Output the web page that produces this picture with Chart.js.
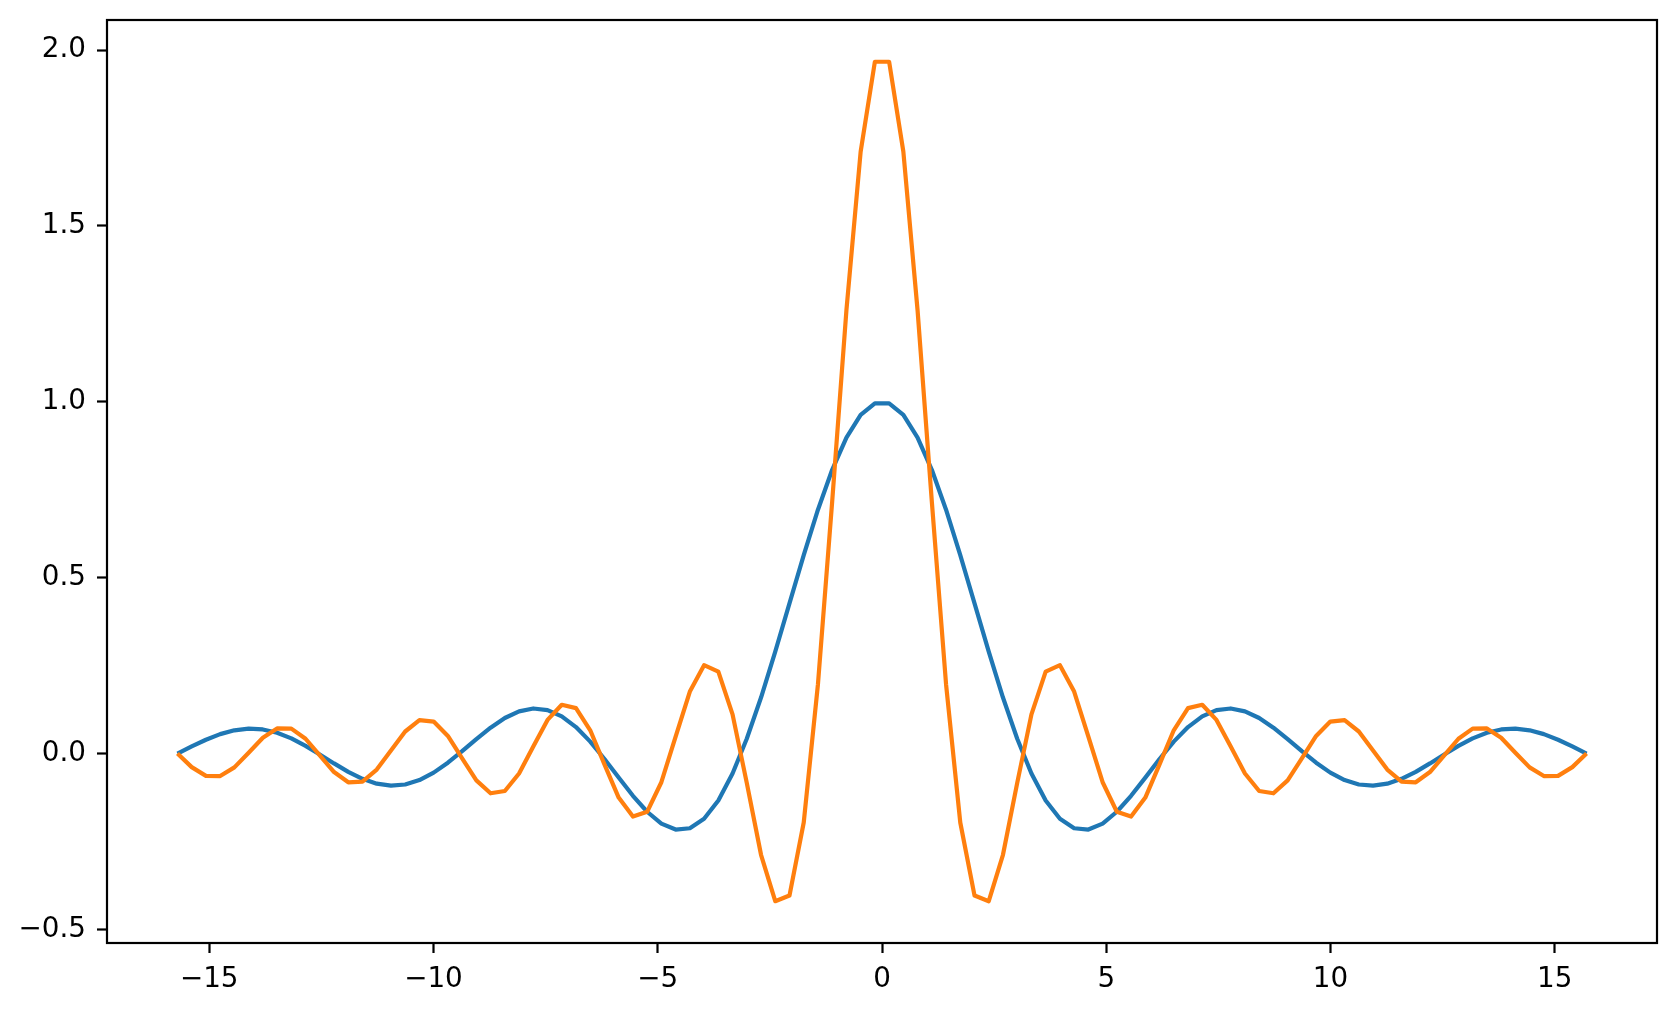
<!DOCTYPE html>
<html>
<head>
<meta charset="utf-8">
<script src="https://cdn.jsdelivr.net/npm/chart.js@4"></script>
<style>
html, body { margin: 0; padding: 0; background: #fff; }
#wrap { width: 1676px; height: 1011px; }
</style>
</head>
<body>
<div id="wrap"><canvas id="c" width="1676" height="1011"></canvas></div>
<script>
const xValues = [
-15.708, -15.391, -15.073, -14.756, -14.439, -14.121, -13.804, -13.487, -13.169, -12.852,
-12.535, -12.217, -11.900, -11.583, -11.265, -10.948, -10.631, -10.313, -9.996, -9.679,
-9.361, -9.044, -8.727, -8.409, -8.092, -7.775, -7.457, -7.140, -6.823, -6.505,
-6.188, -5.871, -5.553, -5.236, -4.919, -4.601, -4.284, -3.967, -3.649, -3.332,
-3.015, -2.697, -2.380, -2.063, -1.745, -1.428, -1.111, -0.793, -0.476, -0.159,
0.159, 0.476, 0.793, 1.111, 1.428, 1.745, 2.063, 2.380, 2.697, 3.015,
3.332, 3.649, 3.967, 4.284, 4.601, 4.919, 5.236, 5.553, 5.871, 6.188,
6.505, 6.823, 7.140, 7.457, 7.775, 8.092, 8.409, 8.727, 9.044, 9.361,
9.679, 9.996, 10.313, 10.631, 10.948, 11.265, 11.583, 11.900, 12.217, 12.535,
12.852, 13.169, 13.487, 13.804, 14.121, 14.439, 14.756, 15.073, 15.391, 15.708
];
const blueValues = [
0.0000, 0.0203, 0.0393, 0.0552, 0.0661, 0.0708, 0.0685, 0.0590, 0.0431, 0.0219,
-0.0025, -0.0280, -0.0519, -0.0719, -0.0856, -0.0912, -0.0879, -0.0753, -0.0541, -0.0259,
0.0068, 0.0411, 0.0737, 0.1011, 0.1201, 0.1282, 0.1237, 0.1058, 0.0753, 0.0339,
-0.0154, -0.0683, -0.1201, -0.1654, -0.1990, -0.2160, -0.2123, -0.1852, -0.1332, -0.0568,
0.0420, 0.1593, 0.2899, 0.4272, 0.5643, 0.6932, 0.8067, 0.8984, 0.9627, 0.9955,
0.9955, 0.9627, 0.8984, 0.8067, 0.6932, 0.5643, 0.4272, 0.2899, 0.1593, 0.0420,
-0.0568, -0.1332, -0.1852, -0.2123, -0.2160, -0.1990, -0.1654, -0.1201, -0.0683, -0.0154,
0.0339, 0.0753, 0.1058, 0.1237, 0.1282, 0.1201, 0.1011, 0.0737, 0.0411, 0.0068,
-0.0259, -0.0541, -0.0753, -0.0879, -0.0912, -0.0856, -0.0719, -0.0519, -0.0280, -0.0025,
0.0219, 0.0431, 0.0590, 0.0685, 0.0708, 0.0661, 0.0552, 0.0393, 0.0203, 0.0000
];
const orangeValues = [
0.0000, -0.0385, -0.0634, -0.0640, -0.0393, 0.0022, 0.0448, 0.0715, 0.0709, 0.0421,
-0.0051, -0.0526, -0.0817, -0.0796, -0.0456, 0.0087, 0.0627, 0.0949, 0.0910, 0.0502,
-0.0135, -0.0763, -0.1129, -0.1065, -0.0566, 0.0203, 0.0956, 0.1386, 0.1292, 0.0661,
-0.0306, -0.1251, -0.1790, -0.1654, -0.0815, 0.0479, 0.1764, 0.2513, 0.2329, 0.1115,
-0.0833, -0.2877, -0.4197, -0.4036, -0.1960, 0.1973, 0.7162, 1.2603, 1.7113, 1.9666,
1.9666, 1.7113, 1.2603, 0.7162, 0.1973, -0.1960, -0.4036, -0.4197, -0.2877, -0.0833,
0.1115, 0.2329, 0.2513, 0.1764, 0.0479, -0.0815, -0.1654, -0.1790, -0.1251, -0.0306,
0.0661, 0.1292, 0.1386, 0.0956, 0.0203, -0.0566, -0.1065, -0.1129, -0.0763, -0.0135,
0.0502, 0.0910, 0.0949, 0.0627, 0.0087, -0.0456, -0.0796, -0.0817, -0.0526, -0.0051,
0.0421, 0.0709, 0.0715, 0.0448, 0.0022, -0.0393, -0.0640, -0.0634, -0.0385, 0.0000
];
const xTickValues = [-15, -10, -5, 0, 5, 10, 15];
const xTickLabels = ['\u221215', '\u221210', '\u22125', '0', '5', '10', '15'];
const yTickValues = [-0.5, 0, 0.5, 1.0, 1.5, 2.0];
const yTickLabels = ['\u22120.5', '0.0', '0.5', '1.0', '1.5', '2.0'];
const xRange = [-17.279, 17.279];
const yRange = [-0.5385, 2.0853];

const toPoints = (ys) => xValues.map((x, i) => ({ x: x, y: ys[i] }));

const spinePlugin = {
  id: 'spines',
  afterDraw(chart) {
    const a = chart.chartArea;
    const ctx = chart.ctx;
    ctx.save();
    ctx.strokeStyle = '#000';
    ctx.lineWidth = 2.2;
    ctx.strokeRect(a.left, a.top, a.right - a.left, a.bottom - a.top);
    ctx.restore();
  }
};

const tickFont = { family: 'DejaVu Sans', size: 27.8 };

new Chart(document.getElementById('c'), {
  type: 'line',
  data: {
    datasets: [
      { data: toPoints(blueValues), order: 2, borderColor: '#1f77b4', borderWidth: 4.2, pointRadius: 0, tension: 0, fill: false, borderJoinStyle: 'round', borderCapStyle: 'butt' },
      { data: toPoints(orangeValues), order: 1, borderColor: '#ff7f0e', borderWidth: 4.2, pointRadius: 0, tension: 0, fill: false, borderJoinStyle: 'round', borderCapStyle: 'butt' }
    ]
  },
  options: {
    responsive: false,
    devicePixelRatio: 1,
    animation: false,
    layout: { padding: { left: 0, top: 20, right: 19, bottom: 0 } },
    plugins: { legend: { display: false }, tooltip: { enabled: false } },
    scales: {
      x: {
        type: 'linear',
        min: xRange[0], max: xRange[1],
        afterBuildTicks: (s) => { s.ticks = xTickValues.map(v => ({ value: v })); },
        afterFit: (s) => { s.height = 68; s.paddingLeft = 0; s.paddingRight = 0; },
        grid: { display: true, drawOnChartArea: false, drawTicks: true, tickLength: 10, tickWidth: 2.2, tickColor: '#000' },
        border: { display: false },
        ticks: {
          color: '#000', font: tickFont, padding: 10, maxRotation: 0, autoSkip: false,
          callback: (v, i) => xTickLabels[xTickValues.indexOf(v)]
        }
      },
      y: {
        type: 'linear',
        min: yRange[0], max: yRange[1],
        afterBuildTicks: (s) => { s.ticks = yTickValues.map(v => ({ value: v })); },
        afterFit: (s) => { s.width = 107; s.paddingTop = 0; s.paddingBottom = 0; },
        grid: { display: true, drawOnChartArea: false, drawTicks: true, tickLength: 10, tickWidth: 2.2, tickColor: '#000' },
        border: { display: false },
        ticks: {
          color: '#000', font: tickFont, padding: 11, autoSkip: false,
          callback: (v, i) => yTickLabels[yTickValues.indexOf(v)]
        }
      }
    }
  },
  plugins: [spinePlugin]
});
</script>
</body>
</html>
